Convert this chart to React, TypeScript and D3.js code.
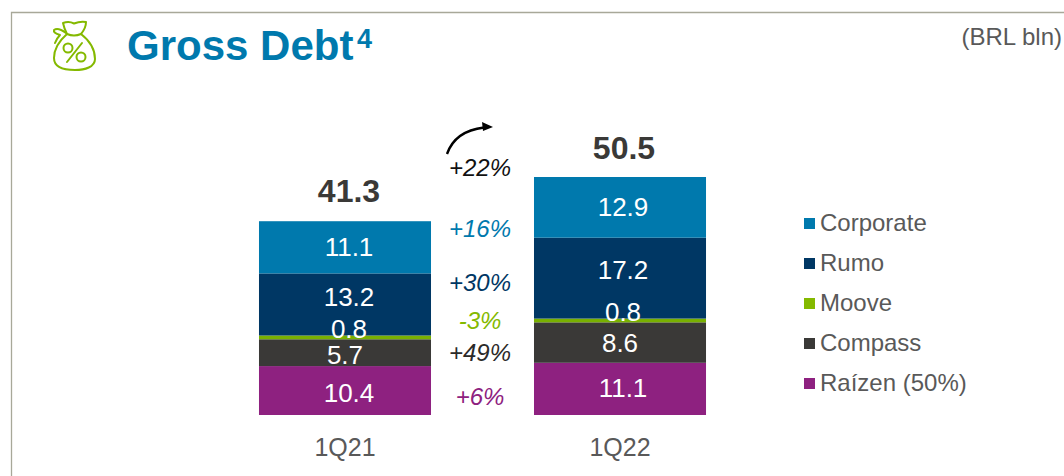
import React from "react";
import * as d3 from "d3";

const periods = ["1Q21", "1Q22"];
const seriesNames = ["Raízen (50%)", "Compass", "Moove", "Rumo", "Corporate"];
const raizen = [10.4, 11.1];
const compass = [5.7, 8.6];
const moove = [0.8, 0.8];
const rumo = [13.2, 17.2];
const corporate = [11.1, 12.9];
const totals = [41.3, 50.5];
const colors = ["#8E2180", "#3A3937", "#78B000", "#003764", "#0079AD"];
const growthLabels = ["+6%", "+49%", "-3%", "+30%", "+16%", "+22%"];
const growthColors = ["#8E2180", "#2b2a29", "#84B900", "#003764", "#0079AD", "#111111"];

const FONT = "'Liberation Sans', Arial, sans-serif";

export default function App() {
  const rows = periods.map((p, i) => ({
    period: p,
    s0: raizen[i], s1: compass[i], s2: moove[i], s3: rumo[i], s4: corporate[i],
  }));
  const keys = ["s0", "s1", "s2", "s3", "s4"];
  const stacked = d3.stack<any>().keys(keys)(rows);
  const y = d3.scaleLinear().domain([0, 50.6]).range([415, 177]);
  const x = d3.scaleBand().domain(periods).range([207.5, 757.5]).paddingInner(0.3745).paddingOuter(0.1872);
  // label nudges: [period][series]
  const shiftY = [[2, 2, -9, -8, -1], [-1, 0, -9, -8, -1]];
  const shiftX = [[4, 0, 4, 4, 4], [3, 0, 3, 3, 3]];
  const growthY = [396, 352, 320, 282, 228, 167];
  const legendY = d3.scalePoint<string>().domain([...seriesNames].reverse()).range([222, 382]);
  const arc = d3.path();
  arc.moveTo(447, 154);
  arc.quadraticCurveTo(455, 131, 484, 127.5);

  return (
    <svg width={1064} height={476} style={{ position: "absolute", left: 0, top: 0, background: "#fff" }} fontFamily={FONT}>
      <path d="M11.5 476V12.5H1064" fill="none" stroke="#A8A899" strokeWidth={1.3} />
      <g fill="none" stroke="#84B900" strokeWidth={2} strokeLinecap="round" strokeLinejoin="round">
        <path d="M67 34 Q64 28 63 23 Q69 21 74 23.5 Q80 21 86 22 Q86 28 81 34 C90 41 95 50 95 59 C95 67 85 70 75 70 C64 70 54 67 54 58 C54 50 59 41 67 34 Z" />
        <path d="M67 34 Q74 37 81 34" />
        <path d="M66 33 Q58 27 54 30 Q53 33 60 35 Q57 38 55 43" />
        <path d="M67 62 L82 43" />
        <circle cx="68" cy="48" r="4.5" />
        <circle cx="81" cy="57" r="4.5" />
      </g>
      <text x={127} y={60} fontSize={42} fontWeight={700} fill="#0079AD">Gross Debt</text>
      <text x={357} y={48} fontSize={27} fontWeight={700} fill="#0079AD">4</text>
      <text x={1062} y={45} textAnchor="end" fontSize={24} fill="#595959">(BRL bln)</text>

      {stacked.map((layer, k) => (
        <g key={layer.key}>
          {layer.map((d, i) => (
            <rect key={periods[i]} x={x(periods[i]) as number} y={y(d[1])} width={x.bandwidth()} height={y(d[0]) - y(d[1])} fill={colors[k]} />
          ))}
        </g>
      ))}
      {stacked.map((layer, k) => (
        <g key={layer.key}>
          {layer.map((d, i) => (
            <text key={periods[i]} x={(x(periods[i]) as number) + x.bandwidth() / 2 + shiftX[i][k]} y={(y(d[0]) + y(d[1])) / 2 + shiftY[i][k]} dy="0.36em" textAnchor="middle" fontSize={26} fill="#fff">
              {(d.data as any)[layer.key].toFixed(1)}
            </text>
          ))}
        </g>
      ))}

      {periods.map((p, i) => (
        <g key={p}>
          <text x={(x(p) as number) + x.bandwidth() / 2 + 4} y={y(totals[i]) - 18.5} textAnchor="middle" fontSize={32} fontWeight={700} fill="#3A3937">
            {totals[i].toFixed(1)}
          </text>
          <text x={(x(p) as number) + x.bandwidth() / 2} y={456} textAnchor="middle" fontSize={25} fill="#595959">{p}</text>
        </g>
      ))}

      {growthLabels.map((g, i) => (
        <text key={g} x={480} y={growthY[i]} dy="0.36em" textAnchor="middle" fontSize={24} fontStyle="italic" fill={growthColors[i]}>{g}</text>
      ))}

      <path d={arc.toString()} fill="none" stroke="#000" strokeWidth={2.4} />
      <path d={d3.line()([[482, 122], [493, 127], [483, 131]]) + "Z"} fill="#000" />

      {seriesNames.map((n, k) => (
        <g key={n}>
          <rect x={804} y={legendY(n)! - 4} width={11} height={11} fill={k === 2 ? "#84B900" : colors[k]} />
          <text x={820} y={legendY(n)!} dy="0.36em" fontSize={24} fill="#595959">{n}</text>
        </g>
      ))}
    </svg>
  );
}
